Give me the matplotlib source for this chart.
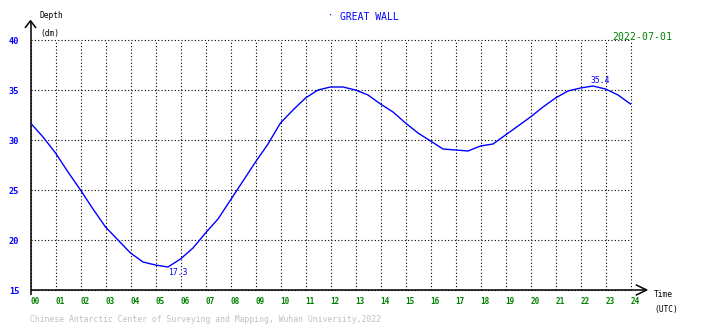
import matplotlib
matplotlib.use("Agg")
import matplotlib.pyplot as plt
import numpy as np

# ---- data ----
hours = [0, 0.5, 1, 1.5, 2, 2.5, 3, 3.5, 4, 4.5, 5, 5.5, 6, 6.5, 7, 7.5, 8, 8.5,
         9, 9.5, 10, 10.5, 11, 11.5, 12, 12.5, 13, 13.5, 14, 14.5, 15, 15.5, 16,
         16.5, 17, 17.5, 18, 18.5, 19, 19.5, 20, 20.5, 21, 21.5, 22, 22.5, 23,
         23.5, 24]
depth = [31.7, 30.3, 28.7, 26.8, 25.0, 23.1, 21.3, 20.0, 18.7, 17.8, 17.5, 17.3,
         18.1, 19.2, 20.7, 22.1, 24.0, 25.9, 27.8, 29.6, 31.7, 33.0, 34.2, 35.0,
         35.3, 35.3, 35.0, 34.5, 33.6, 32.8, 31.7, 30.7, 29.9, 29.1, 29.0, 28.9,
         29.4, 29.6, 30.5, 31.4, 32.3, 33.3, 34.2, 34.9, 35.2, 35.4, 35.1, 34.5,
         33.6]
x_ticks = list(range(0, 25))
x_labels = ["%02d" % h for h in x_ticks]
y_ticks = [15, 20, 25, 30, 35, 40]
y_labels = ["15", "20", "25", "30", "35", "40"]
title = "GREAT WALL"
date = "2022-07-01"
footer = "Chinese Antarctic Center of Surveying and Mapping, Wuhan University,2022"

W, H = 710, 328
fig = plt.figure(figsize=(W / 100, H / 100), dpi=100)
ax = fig.add_axes([30.5 / W, 38 / H, 600 / W, 250 / H])
mono = "DejaVu Sans Mono"

ax.plot(hours, depth, color="#0000ff", lw=1.0, zorder=3)
ax.set_xlim(0, 24)
ax.set_ylim(15, 40)

ax.set_xticks(x_ticks)
ax.set_xticklabels(x_labels, ha="left", color="#008000", fontsize=5.5,
                   fontweight="bold", family=mono)
ax.set_yticks(y_ticks)
ax.set_yticklabels(y_labels, color="#0000ff", fontsize=6.2,
                   fontweight="bold", family=mono)
ax.tick_params(axis="x", length=0, pad=5)
ax.tick_params(axis="y", length=0, pad=8)
ax.grid(True, color="black", linestyle=(0, (1, 2)), lw=0.8, zorder=1)
for gl in ax.get_xgridlines() + ax.get_ygridlines():
    gl.set_clip_on(False)
for s in ax.spines.values():
    s.set_visible(False)

# axis lines with arrows
lk = dict(color="black", lw=1.1, transform=ax.transAxes, clip_on=False,
          solid_capstyle="butt")
ax.plot([0, 0], [-0.02, 1.077], **lk)
ax.plot([-0.0092, 0, 0.0092], [1.048, 1.077, 1.048], **lk)
ax.plot([0, 1.027], [0, 0], **lk)
ax.plot([1.0087, 1.027, 1.0087], [0.021, 0, -0.021], **lk)

# min / max annotations
imin = int(np.argmin(depth))
imax = int(np.argmax(depth))
ax.annotate("%.1f" % depth[imin], (hours[imin], depth[imin]),
            xytext=(0, -1), textcoords="offset points", ha="left", va="top",
            color="#0000ff", fontsize=5.8, family=mono)
ax.annotate("%.1f" % depth[imax], (hours[imax], depth[imax]),
            xytext=(-1.5, 1), textcoords="offset points", ha="left",
            va="bottom", color="#0000ff", fontsize=5.8, family=mono)

# texts
def ft(x, y, s, **kw):
    fig.text(x / W, 1 - y / H, s, family=mono, **kw)

ft(40, 16, "Depth", fontsize=5.7, va="center", ha="left", color="black")
ft(40.5, 33.5, "(dm)", fontsize=5.7, va="center", ha="left", color="black")
ft(654, 294.5, "Time", fontsize=5.7, va="center", ha="left", color="black")
ft(654, 309.5, "(UTC)", fontsize=5.7, va="center", ha="left", color="black")
ft(340, 17, title, fontsize=7, va="center", ha="left", color="#0000ff")
ft(330, 16.5, "\u00b7", fontsize=6, va="center", ha="center", color="#0000ff")
ft(612, 37, date, fontsize=7.1, va="center", ha="left", color="#008000")
ft(30, 320, footer, fontsize=5.9, va="center", ha="left", color="#c0c0c0")

fig.savefig("out.png", dpi=100, facecolor="white")
